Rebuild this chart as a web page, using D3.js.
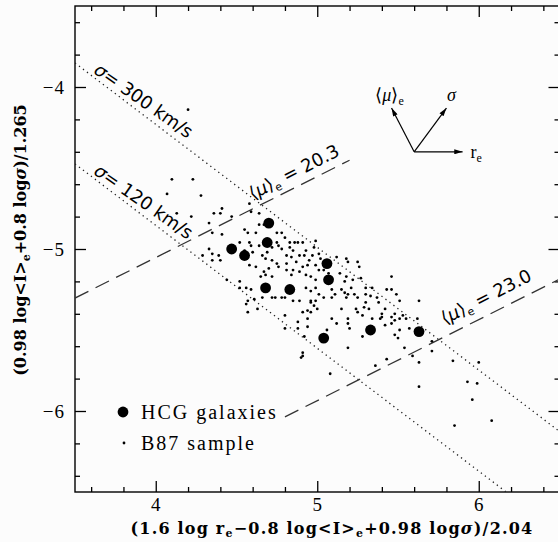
<!DOCTYPE html>
<html>
<head>
<meta charset="utf-8">
<script src="https://cdn.jsdelivr.net/npm/d3@7"></script>
<style>
  body { margin: 0; background: #fcfcfc; }
  svg { display: block; }
  .tick text { font-family: 'Liberation Serif', serif; font-size: 19px; letter-spacing: 1px; fill: #000; }
  .tick line { stroke: #000; stroke-width: 1.3; }
  .title { font-family: 'DejaVu Serif', serif; font-size: 16px; font-weight: bold; }
  .legend { font-family: 'Liberation Serif', serif; font-size: 20px; letter-spacing: 2px; }
  .note { font-family: 'DejaVu Sans', sans-serif; font-size: 18px; }
  .vec { font-family: 'Liberation Serif', serif; font-size: 18px; }
</style>
</head>
<body>
<div id="chart"></div>
<script>
// tick values
const xTicks = [4, 5, 6]
const yTicks = [-4, -5, -6]

// HCG galaxies (big dots)
const hcgX = [4.47, 4.55, 4.70, 4.69, 4.68, 4.83, 5.06, 5.07, 5.04, 5.33, 5.63]
const hcgY = [-5.00, -5.04, -4.84, -4.96, -5.24, -5.25, -5.09, -5.19, -5.55, -5.50, -5.51]

// B87 sample (small dots), [x, y]
const b87 = [
  [4.20, -4.14], [4.10, -4.57], [4.23, -4.57],
  [4.07, -4.66], [4.28, -4.67], [4.13, -4.78], [4.22, -4.80], [4.41, -4.75], [4.36, -4.78], [4.40, -4.78],
  [4.33, -4.84], [4.47, -4.80], [4.35, -4.90], [4.41, -4.91], [4.58, -4.72], [4.59, -4.77], [4.64, -4.78],
  [4.64, -4.85], [4.55, -4.88], [4.57, -4.90], [4.62, -4.90], [4.52, -4.96], [4.58, -4.96], [4.59, -4.98],
  [4.55, -5.01], [4.60, -5.02], [4.33, -5.00], [4.35, -5.03], [4.39, -5.04], [4.40, -5.07], [4.35, -5.07],
  [4.29, -5.04], [4.58, -5.10], [4.62, -5.11], [4.44, -5.19], [4.52, -5.20], [4.67, -4.85], [4.75, -4.90],
  [4.78, -4.90], [4.80, -4.93], [4.83, -4.96], [4.75, -4.96], [4.67, -4.96], [4.64, -4.98], [4.69, -5.02],
  [4.66, -5.04], [4.68, -5.06], [4.72, -5.07], [4.72, -4.99], [4.76, -4.98], [4.78, -5.00], [4.83, -4.99],
  [4.86, -4.96], [4.88, -4.96], [4.85, -5.01], [4.91, -4.96], [4.93, -5.01], [4.89, -5.04], [4.92, -5.04],
  [4.81, -5.04], [4.84, -5.05], [4.87, -5.08], [4.81, -5.09], [4.75, -5.09], [4.76, -5.11], [4.70, -5.12],
  [4.67, -5.14], [4.68, -5.16], [4.72, -5.17], [4.65, -5.17], [4.81, -5.13], [4.85, -5.13], [4.84, -5.16],
  [4.89, -5.14], [4.91, -5.11], [4.94, -5.10], [4.95, -5.07], [4.97, -5.04], [4.98, -4.99], [4.99, -4.95],
  [5.01, -5.03], [5.02, -5.06], [4.99, -5.10], [5.01, -5.13], [4.93, -5.16], [4.96, -5.17], [4.99, -5.19],
  [5.12, -5.05], [5.18, -5.06], [5.19, -5.08], [5.25, -5.08], [5.14, -5.15], [5.18, -5.17], [5.22, -5.19],
  [5.17, -5.20], [5.09, -5.18], [5.04, -5.13], [5.07, -5.15], [5.06, -5.17],
  [4.52, -5.24], [4.56, -5.24], [4.59, -5.25], [4.57, -5.32], [4.61, -5.31], [4.56, -5.34], [4.57, -5.39],
  [4.63, -5.37], [4.66, -5.30], [4.72, -5.30], [4.74, -5.30], [4.78, -5.30], [4.80, -5.30], [4.85, -5.32],
  [4.89, -5.32], [4.93, -5.24], [4.96, -5.26], [4.99, -5.24], [4.96, -5.32], [4.99, -5.32], [4.96, -5.33],
  [5.01, -5.28], [5.04, -5.30], [4.98, -5.35], [5.00, -5.37], [4.91, -5.39], [4.94, -5.38], [4.96, -5.39],
  [5.09, -5.25], [5.11, -5.28], [5.09, -5.30], [5.15, -5.25], [5.17, -5.27], [5.19, -5.28], [5.21, -5.24],
  [5.18, -5.30], [5.23, -5.28], [5.25, -5.30], [5.15, -5.37], [5.24, -5.37], [5.25, -5.39], [4.80, -5.41],
  [4.88, -5.45], [4.94, -5.43], [5.09, -5.43], [5.12, -5.46], [5.19, -5.43], [5.19, -5.46], [5.20, -5.49],
  [4.88, -5.49], [4.94, -5.48], [4.80, -5.49], [5.06, -5.50], [4.92, -5.54], [5.19, -5.61], [4.91, -5.64],
  [4.91, -5.66], [4.90, -5.67], [5.08, -5.77],
  [5.30, -5.24], [5.34, -5.24], [5.43, -5.25], [5.46, -5.25], [5.30, -5.28], [5.33, -5.29], [5.37, -5.30],
  [5.49, -5.28], [5.30, -5.33], [5.38, -5.33], [5.51, -5.32], [5.63, -5.32], [5.42, -5.37], [5.29, -5.36],
  [5.32, -5.37], [5.40, -5.40], [5.39, -5.43], [5.40, -5.42], [5.48, -5.40], [5.46, -5.42], [5.53, -5.41],
  [5.51, -5.43], [5.55, -5.43], [5.62, -5.43], [5.28, -5.41], [5.34, -5.43], [5.48, -5.44], [5.42, -5.47],
  [5.46, -5.46], [5.51, -5.50], [5.48, -5.53], [5.57, -5.49], [5.28, -5.54], [5.50, -5.55], [5.54, -5.61],
  [5.71, -5.57], [5.71, -5.63], [5.63, -5.70], [5.43, -5.68], [5.36, -5.72], [5.59, -5.66], [5.84, -5.69],
  [6.00, -5.70],
  [5.46, -5.17], [5.26, -5.11], [5.27, -5.18], [5.63, -5.85], [5.93, -5.82], [5.99, -5.83], [5.96, -5.93],
  [5.85, -6.09], [6.08, -6.06]
]

// constant sigma lines (dotted) and constant <mu>_e lines (dashed)
const sigmaLines = [
  {label: '300', x0: 3.5, y0: -3.852, x1: 6.5, y1: -6.126},
  {label: '120', x0: 3.5, y0: -4.475, x1: 6.17, y1: -6.5}
]
const muLines = [
  {label: '20.3', x0: 3.5, y0: -5.303, x1: 5.2, y1: -4.452},
  {label: '23.0', x0: 4.8, y0: -6.036, x1: 6.5, y1: -5.186}
]

// projection arrows: origin and tips
const arrowOrigin = [5.60, -4.40]
const arrowTips = [[5.90, -4.40], [5.80, -4.13], [5.46, -4.13]]

const width = 558
const height = 542
const margin = {top: 6, right: -1.5, bottom: 50, left: 75}
const w = width - margin.left - margin.right
const h = height - margin.top - margin.bottom

const x = d3.scaleLinear().domain([3.5, 6.5]).range([0, w])
const y = d3.scaleLinear().domain([-6.5, -3.5]).range([h, 0])

const minor = (a, b) => d3.range(a, b, 0.2).filter(v => Math.abs(v - Math.round(v)) > 0.01)
const xMinor = minor(3.6, 6.45)
const yMinor = minor(-6.4, -3.55)

const svg = d3.select('#chart').append('svg')
    .attr('width', width)
    .attr('height', height)

const defs = svg.append('defs')
defs.append('clipPath').attr('id', 'plot')
  .append('rect').attr('width', w).attr('height', h)
defs.append('marker')
    .attr('id', 'head')
    .attr('viewBox', '0 0 10 6')
    .attr('refX', 10).attr('refY', 3)
    .attr('markerWidth', 9).attr('markerHeight', 5)
    .attr('markerUnits', 'userSpaceOnUse')
    .attr('orient', 'auto')
  .append('path').attr('d', 'M0,0L10,3L0,6Z').attr('fill', '#000')

const g = svg.append('g')
    .attr('transform', 'translate(' + margin.left + ',' + margin.top + ')')

// axes, ticks pointing inwards on all four sides
function addAxis (axis, tx, ty, values, size, labels) {
  const a = g.append('g')
      .attr('transform', 'translate(' + tx + ',' + ty + ')')
      .call(axis.tickValues(values).tickSize(-size).tickPadding(labels ? 6 : 0)
        .tickFormat(labels ? d3.format('d') : ''))
  a.select('.domain').remove()
  return a
}
addAxis(d3.axisBottom(x), 0, h, xTicks, 11, true)
addAxis(d3.axisBottom(x), 0, h, xMinor, 5, false)
addAxis(d3.axisTop(x), 0, 0, xTicks, 11, false)
addAxis(d3.axisTop(x), 0, 0, xMinor, 5, false)
addAxis(d3.axisLeft(y), 0, 0, yTicks, 11, true).selectAll('text').attr('dx', -4)
addAxis(d3.axisLeft(y), 0, 0, yMinor, 5, false)
addAxis(d3.axisRight(y), w, 0, yTicks, 11, false)
addAxis(d3.axisRight(y), w, 0, yMinor, 5, false)

g.append('rect')
    .attr('width', w).attr('height', h)
    .attr('fill', 'none').attr('stroke', '#000').attr('stroke-width', 1.4)

const lines = g.append('g').attr('clip-path', 'url(#plot)')

lines.selectAll('.sigma').data(sigmaLines).enter().append('line')
    .attr('class', 'sigma')
    .attr('x1', d => x(d.x0)).attr('y1', d => y(d.y0))
    .attr('x2', d => x(d.x1)).attr('y2', d => y(d.y1))
    .attr('stroke', '#222').attr('stroke-width', 1.3)
    .attr('stroke-dasharray', '1.3,3.7')

lines.selectAll('.mu').data(muLines).enter().append('line')
    .attr('class', 'mu')
    .attr('x1', d => x(d.x0)).attr('y1', d => y(d.y0))
    .attr('x2', d => x(d.x1)).attr('y2', d => y(d.y1))
    .attr('stroke', '#333').attr('stroke-width', 1.3)
    .attr('stroke-dasharray', '15,8')

// labels along the lines
function lineAt (d, xv) {
  return y(d.y0 + (d.y1 - d.y0) * (xv - d.x0) / (d.x1 - d.x0))
}
sigmaLines.forEach(function (d) {
  const t = g.append('text')
      .attr('class', 'note')
      .attr('transform', 'translate(' + x(3.61) + ',' + (lineAt(d, 3.61) - 4) + ')rotate(35)')
  t.append('tspan').style('font-style', 'italic').text('σ')
  t.append('tspan').text('= ' + d.label + ' km/s')
})
const muStart = [4.60, 5.79]
const muLift = [9, 12]
muLines.forEach(function (d, i) {
  const t = g.append('text')
      .attr('class', 'note')
      .attr('transform', 'translate(' + x(muStart[i]) + ',' + (lineAt(d, muStart[i]) - muLift[i]) + ')rotate(-27)')
  t.append('tspan').text('⟨')
  t.append('tspan').style('font-style', 'italic').text('μ')
  t.append('tspan').text('⟩')
  t.append('tspan').attr('dy', 4).style('font-size', '11px').text('e')
  t.append('tspan').attr('dy', -4).text(' = ' + d.label)
})

// points
g.append('g').attr('clip-path', 'url(#plot)').selectAll('circle').data(b87).enter().append('circle')
    .attr('cx', d => x(d[0]))
    .attr('cy', d => y(d[1]))
    .attr('r', 1.4)
    .attr('fill', '#000')

g.append('g').selectAll('circle').data(hcgX).enter().append('circle')
    .attr('cx', d => x(d))
    .attr('cy', (d, i) => y(hcgY[i]))
    .attr('r', 5.4)
    .attr('fill', '#000')

// arrow diagram
g.append('g').selectAll('line').data(arrowTips).enter().append('line')
    .attr('x1', x(arrowOrigin[0])).attr('y1', y(arrowOrigin[1]))
    .attr('x2', d => x(d[0])).attr('y2', d => y(d[1]))
    .attr('stroke', '#000').attr('stroke-width', 1.2)
    .attr('marker-end', 'url(#head)')

const re = g.append('text').attr('class', 'vec')
    .attr('x', x(arrowTips[0][0]) + 8).attr('y', y(arrowTips[0][1]) + 6)
re.append('tspan').text('r')
re.append('tspan').attr('dy', 4).style('font-size', '12px').text('e')

g.append('text').attr('class', 'vec')
    .attr('x', x(arrowTips[1][0]) + 5).attr('y', y(arrowTips[1][1]) - 7)
    .attr('text-anchor', 'middle')
    .style('font-style', 'italic')
    .text('σ')

const mu = g.append('text').attr('class', 'vec')
    .attr('x', x(arrowTips[2][0]) - 2).attr('y', y(arrowTips[2][1]) - 7)
    .attr('text-anchor', 'middle')
mu.append('tspan').text('⟨')
mu.append('tspan').style('font-style', 'italic').text('μ')
mu.append('tspan').text('⟩')
mu.append('tspan').attr('dy', 4).style('font-size', '12px').text('e')

// legend
const legend = svg.append('g').attr('class', 'legend')
legend.append('circle').attr('cx', 123).attr('cy', 412).attr('r', 5.4)
legend.append('text').attr('x', 141).attr('y', 419).text('HCG galaxies')
legend.append('circle').attr('cx', 124).attr('cy', 443).attr('r', 1.4)
legend.append('text').attr('x', 141).attr('y', 450).text('B87 sample')

// axis titles
const xt = svg.append('text').attr('class', 'title')
    .attr('x', 332).attr('y', 534)
    .attr('text-anchor', 'middle')
    .style('letter-spacing', '1.2px')
xt.append('tspan').text('(1.6 log r')
xt.append('tspan').attr('dy', 3).style('font-size', '11px').text('e')
xt.append('tspan').attr('dy', -3).text('−0.8 log<I>')
xt.append('tspan').attr('dy', 3).style('font-size', '11px').text('e')
xt.append('tspan').attr('dy', -3).text('+0.98 log')
xt.append('tspan').style('font-style', 'italic').text('σ')
xt.append('tspan').text(')/2.04')

const yt = svg.append('text').attr('class', 'title')
    .attr('transform', 'translate(26,240)rotate(-90)')
    .attr('text-anchor', 'middle')
yt.append('tspan').text('(0.98 log<I>')
yt.append('tspan').attr('dy', 4).style('font-size', '11px').text('e')
yt.append('tspan').attr('dy', -4).text('+0.8 log')
yt.append('tspan').style('font-style', 'italic').text('σ')
yt.append('tspan').text(')/1.265')
</script>
</body>
</html>
